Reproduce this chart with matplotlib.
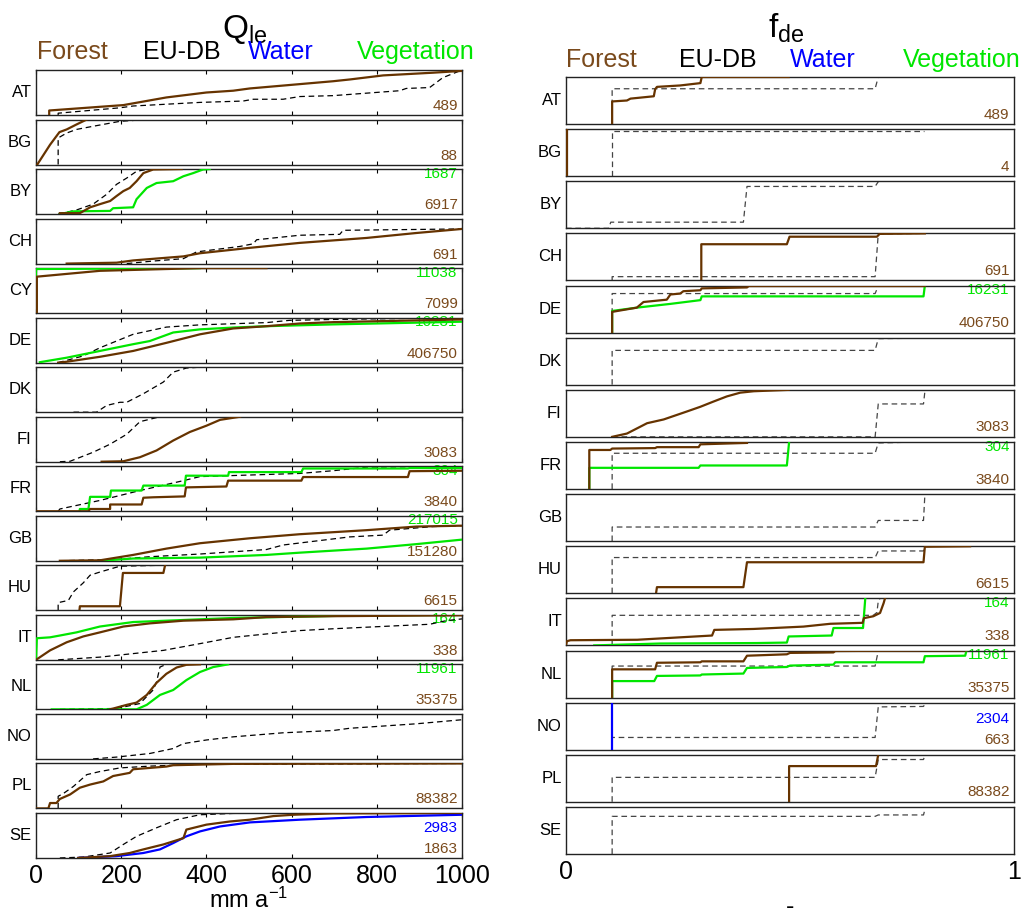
## CDF panels of Q_le and f_de per country
import matplotlib.pyplot as plt

plt.rcParams['font.family'] = ['Liberation Sans', 'DejaVu Sans']
plt.rcParams['mathtext.default'] = 'regular'

# ---- data: Q_le column (x in mm a-1, y cumulative fraction) ----
ql_countries = ["AT", "BG", "BY", "CH", "CY", "DE", "DK", "FI",
                "FR", "GB", "HU", "IT", "NL", "NO", "PL", "SE"]

ql_forest = {
    "AT": ([31, 31, 205, 306, 400, 463, 502, 697, 737, 815, 932, 1000],
           [0, 0.10, 0.22, 0.39, 0.50, 0.54, 0.59, 0.75, 0.79, 0.88, 0.94, 0.98]),
    "BG": ([3, 33, 55, 72, 95, 119], [0, 0.44, 0.72, 0.78, 0.89, 1.0]),
    "BY": ([56, 103, 127, 150, 174, 189, 205, 220, 236, 252, 275, 342],
           [0.02, 0.02, 0.15, 0.22, 0.29, 0.40, 0.51, 0.58, 0.73, 0.91, 0.99, 1.0]),
    "CH": ([72, 189, 228, 346, 385, 502, 619, 776, 893, 1000],
           [0, 0.02, 0.07, 0.16, 0.23, 0.35, 0.46, 0.57, 0.68, 0.77]),
    "CY": ([2, 2, 150, 385, 541], [0, 0.81, 0.94, 1.0, 1.0]),
    "DE": ([52, 72, 150, 228, 306, 385, 463, 541, 619, 697, 1000],
           [0, 0.02, 0.13, 0.26, 0.44, 0.63, 0.76, 0.81, 0.87, 0.90, 0.96]),
    "FI": ([154, 205, 244, 283, 322, 361, 400, 432, 479],
           [0, 0.01, 0.10, 0.25, 0.47, 0.66, 0.80, 0.93, 1.0]),
    "FR": ([0, 123, 127, 174, 174, 248, 252, 275, 349, 352, 447, 451, 623, 627, 873, 877, 1000],
           [0, 0, 0.05, 0.05, 0.15, 0.15, 0.30, 0.31, 0.33, 0.53, 0.55, 0.68, 0.68, 0.76, 0.76, 0.89, 0.90]),
    "GB": ([56, 150, 228, 306, 385, 502, 619, 776, 893, 1000],
           [0, 0.01, 0.13, 0.27, 0.39, 0.50, 0.59, 0.68, 0.76, 0.78]),
    "HU": ([102, 103, 197, 204, 299, 303], [0, 0.09, 0.09, 0.83, 0.83, 1.0]),
    "IT": ([0, 33, 72, 111, 150, 205, 267, 346, 463, 541, 697, 1000],
           [0, 0.21, 0.39, 0.52, 0.61, 0.74, 0.81, 0.87, 0.90, 0.95, 0.97, 0.99]),
    "NL": ([174, 213, 236, 260, 283, 306, 330, 353, 385],
           [0, 0.10, 0.15, 0.32, 0.59, 0.79, 0.93, 0.99, 1.0]),
    "PL": ([0, 29, 33, 48, 56, 80, 103, 127, 158, 181, 220, 228, 267, 306, 322, 463, 1000],
           [0, 0, 0.12, 0.12, 0.21, 0.31, 0.46, 0.53, 0.60, 0.72, 0.79, 0.87, 0.90, 0.93, 0.96, 0.99, 1.0]),
    "SE": ([99, 174, 220, 252, 299, 346, 353, 400, 455, 502, 557, 604, 697, 1000],
           [0, 0.04, 0.11, 0.19, 0.30, 0.44, 0.63, 0.74, 0.81, 0.85, 0.93, 0.96, 0.99, 1.0]),
}

ql_veg = {
    "BY": ([56, 88, 174, 181, 228, 236, 260, 283, 322, 346, 369, 392, 408],
           [0, 0.06, 0.07, 0.13, 0.15, 0.33, 0.58, 0.69, 0.73, 0.84, 0.91, 0.99, 1.0]),
    "CY": ([0, 0, 385], [0, 0.98, 1.0]),
    "DE": ([9, 72, 150, 228, 267, 322, 385, 463, 541, 697, 1000],
           [0.01, 0.11, 0.26, 0.41, 0.48, 0.67, 0.74, 0.78, 0.81, 0.85, 0.91]),
    "FR": ([102, 103, 123, 127, 174, 176, 248, 252, 349, 352, 451, 453, 623, 627, 873, 877, 1000],
           [0, 0.05, 0.05, 0.32, 0.32, 0.46, 0.46, 0.57, 0.57, 0.79, 0.79, 0.87, 0.87, 0.95, 0.95, 0.96, 0.96]),
    "GB": ([150, 228, 385, 541, 619, 776, 893, 1000],
           [0, 0.05, 0.07, 0.13, 0.18, 0.27, 0.37, 0.47]),
    "IT": ([0, 2, 33, 56, 95, 150, 228, 306, 463, 619, 776, 1000],
           [0, 0.48, 0.50, 0.54, 0.61, 0.74, 0.84, 0.87, 0.93, 0.96, 0.99, 1.0]),
    "NL": ([37, 236, 260, 291, 322, 353, 385, 416, 451],
           [0, 0, 0.10, 0.32, 0.43, 0.65, 0.83, 0.94, 1.0]),
}

ql_water = {
    "SE": ([99, 189, 252, 291, 322, 353, 385, 432, 502, 619, 776, 1000],
           [0, 0.04, 0.11, 0.19, 0.33, 0.48, 0.59, 0.70, 0.79, 0.85, 0.91, 0.96]),
}

ql_eudb = {
    "AT": ([52, 52, 197, 228, 385, 486, 510, 580, 619, 697, 854, 869, 924, 955, 1000],
           [0, 0.04, 0.16, 0.20, 0.28, 0.31, 0.35, 0.35, 0.41, 0.43, 0.54, 0.59, 0.61, 0.83, 1.0]),
    "BG": ([52, 52, 72, 95, 134, 197, 260], [0, 0.59, 0.70, 0.78, 0.85, 0.96, 1.0]),
    "BY": ([52, 95, 134, 166, 189, 213, 236, 260], [0, 0.09, 0.22, 0.44, 0.66, 0.80, 0.95, 0.99]),
    "CH": ([213, 267, 346, 377, 478, 510, 518, 619, 713, 721, 1000],
           [0, 0.05, 0.11, 0.26, 0.38, 0.44, 0.53, 0.63, 0.65, 0.74, 0.77]),
    "DE": ([52, 111, 150, 228, 306, 385, 541, 595, 697, 1000],
           [0, 0.15, 0.33, 0.63, 0.79, 0.84, 0.89, 0.94, 0.96, 1.0]),
    "DK": ([88, 142, 166, 197, 213, 252, 299, 322, 353, 385],
           [0, 0, 0.15, 0.22, 0.22, 0.41, 0.67, 0.89, 0.98, 1.0]),
    "FI": ([56, 80, 134, 174, 213, 244, 283, 322, 392], [0, 0.01, 0.21, 0.39, 0.61, 0.89, 0.98, 1.0, 1.0]),
    "FR": ([52, 56, 150, 244, 346, 385, 619, 697, 776, 1000],
           [0, 0.05, 0.24, 0.46, 0.68, 0.77, 0.84, 0.90, 0.98, 1.0]),
    "GB": ([56, 189, 267, 385, 541, 580, 658, 736, 815, 830, 932, 1000],
           [0, 0.03, 0.09, 0.15, 0.25, 0.35, 0.44, 0.53, 0.57, 0.68, 0.76, 0.78]),
    "HU": ([52, 52, 76, 88, 111, 127, 150, 197, 291, 377], [0, 0.17, 0.22, 0.41, 0.61, 0.78, 0.85, 0.98, 1, 1]),
    "IT": ([52, 150, 299, 385, 463, 619, 697, 854, 924, 963, 1000],
           [0, 0.06, 0.21, 0.36, 0.50, 0.65, 0.69, 0.76, 0.79, 0.87, 0.91]),
    "NL": ([56, 189, 244, 275, 283, 291, 306, 353], [0, 0.02, 0.13, 0.43, 0.61, 0.94, 1.0, 1.0]),
    "NO": ([134, 189, 267, 322, 346, 400, 463, 580, 697, 736, 815, 893, 1000],
           [0, 0.04, 0.12, 0.23, 0.34, 0.42, 0.49, 0.58, 0.63, 0.68, 0.73, 0.78, 0.87]),
    "PL": ([52, 52, 64, 88, 119, 150, 197, 267, 385, 1000], [0, 0.27, 0.33, 0.49, 0.75, 0.82, 0.90, 0.94, 0.98, 1.0]),
    "SE": ([56, 111, 174, 205, 236, 283, 330, 385, 463, 1000], [0, 0.02, 0.11, 0.30, 0.48, 0.67, 0.85, 0.96, 0.99, 1.0]),
}

ql_n_forest = {"AT": "489", "BG": "88", "BY": "6917", "CH": "691", "CY": "7099", "DE": "406750",
               "FI": "3083", "FR": "3840", "GB": "151280", "HU": "6615", "IT": "338",
               "NL": "35375", "PL": "88382", "SE": "1863"}
ql_n_veg = {"BY": "1687", "CY": "11038", "DE": "16231", "FR": "304", "GB": "217015",
            "IT": "164", "NL": "11961"}
ql_n_water = {"SE": "2983"}

# ---- data: f_de column (x fraction 0-1) ----
fd_countries = ["AT", "BG", "BY", "CH", "DE", "DK", "FI", "FR",
                "GB", "HU", "IT", "NL", "NO", "PL", "SE"]

fd_forest = {
    "AT": ([0.103, 0.103, 0.136, 0.144, 0.196, 0.199, 0.203, 0.255, 0.300, 0.303, 0.497],
           [0, 0.48, 0.50, 0.54, 0.59, 0.74, 0.79, 0.82, 0.87, 1.0, 1.0]),
    "BG": ([0.002, 0.002], [0, 1.0]),
    "CH": ([0.302, 0.302, 0.493, 0.499, 0.694, 0.700, 0.801], [0, 0.77, 0.77, 0.93, 0.93, 0.99, 1.0]),
    "DE": ([0.103, 0.103, 0.121, 0.158, 0.173, 0.225, 0.233, 0.255, 0.262, 0.300, 0.303, 0.404, 0.408, 0.801],
           [0, 0.44, 0.47, 0.53, 0.65, 0.70, 0.81, 0.83, 0.88, 0.90, 0.94, 0.96, 0.99, 0.99]),
    "FI": ([0.103, 0.136, 0.181, 0.218, 0.270, 0.300, 0.329, 0.359, 0.389, 0.419, 0.497],
           [0, 0.07, 0.29, 0.37, 0.54, 0.64, 0.75, 0.86, 0.94, 0.97, 1.0]),
    "FR": ([0.052, 0.052, 0.099, 0.103, 0.199, 0.203, 0.296, 0.300, 0.404],
           [0, 0.83, 0.83, 0.86, 0.87, 0.89, 0.89, 0.95, 0.98]),
    "HU": ([0.201, 0.203, 0.396, 0.404, 0.798, 0.801, 0.902], [0, 0.13, 0.13, 0.66, 0.66, 0.99, 1.0]),
    "IT": ([0, 0.002, 0.01, 0.159, 0.270, 0.326, 0.331, 0.419, 0.530, 0.590, 0.662, 0.665, 0.686, 0.701, 0.709, 0.712],
           [0, 0.09, 0.11, 0.12, 0.18, 0.21, 0.33, 0.35, 0.40, 0.46, 0.48, 0.58, 0.62, 0.69, 0.90, 1.0]),
    "NL": ([0.103, 0.103, 0.199, 0.203, 0.300, 0.303, 0.396, 0.404, 0.493, 0.500, 0.597, 0.601, 0.801, 0.894],
           [0, 0.60, 0.60, 0.74, 0.75, 0.77, 0.77, 0.89, 0.92, 0.95, 0.96, 0.99, 1.0, 1.0]),
    "PL": ([0.498, 0.498, 0.692, 0.697], [0, 0.76, 0.76, 1.0]),
}

fd_veg = {
    "DE": ([0.103, 0.103, 0.158, 0.233, 0.300, 0.303, 0.798, 0.801],
           [0, 0.46, 0.53, 0.61, 0.69, 0.77, 0.77, 1.0]),
    "FR": ([0.052, 0.052, 0.296, 0.300, 0.493, 0.498], [0, 0.45, 0.45, 0.50, 0.50, 1.0]),
    "IT": ([0.063, 0.210, 0.426, 0.493, 0.497, 0.593, 0.597, 0.663, 0.668],
           [0, 0.04, 0.05, 0.06, 0.19, 0.21, 0.37, 0.37, 1.0]),
    "NL": ([0.103, 0.103, 0.197, 0.203, 0.300, 0.303, 0.396, 0.404, 0.493, 0.500, 0.597, 0.601, 0.798, 0.801, 0.891, 0.894],
           [0, 0.35, 0.35, 0.46, 0.47, 0.49, 0.51, 0.63, 0.65, 0.68, 0.70, 0.75, 0.75, 0.88, 0.89, 1.0]),
}

fd_water = {
    "NO": ([0.103, 0.103], [0, 1.0]),
}

fd_eudb = {
    "AT": ([0.103, 0.103, 0.690, 0.697, 0.790], [0, 0.75, 0.75, 1.0, 1.0]),
    "BG": ([0.103, 0.103, 0.798], [0, 0.96, 0.96]),
    "BY": ([0, 0.095, 0.100, 0.396, 0.404, 0.690, 0.697], [0, 0, 0.13, 0.13, 0.89, 0.89, 0.99]),
    "CH": ([0.103, 0.103, 0.690, 0.697, 0.790], [0, 0.08, 0.08, 0.99, 1.0]),
    "DE": ([0.103, 0.103, 0.690, 0.697, 0.798], [0, 0.83, 0.83, 0.99, 0.99]),
    "DK": ([0.103, 0.103, 0.690, 0.697, 0.798], [0, 0.73, 0.73, 0.98, 0.99]),
    "FI": ([0.103, 0.690, 0.697, 0.798, 0.801], [0, 0, 0.70, 0.70, 0.96]),
    "FR": ([0.103, 0.103, 0.690, 0.697, 0.790], [0, 0.76, 0.76, 0.98, 1.0]),
    "GB": ([0.103, 0.103, 0.690, 0.697, 0.798, 0.801], [0, 0.30, 0.30, 0.44, 0.44, 0.98]),
    "HU": ([0.103, 0.103, 0.690, 0.697, 0.798, 0.801], [0, 0.76, 0.76, 0.90, 0.90, 0.99]),
    "IT": ([0.103, 0.103, 0.686, 0.694, 0.697, 0.701], [0, 0.64, 0.64, 0.70, 0.94, 1.0]),
    "NL": ([0.103, 0.103, 0.690, 0.697, 0.798], [0, 0.67, 0.67, 0.99, 0.99]),
    "NO": ([0.103, 0.103, 0.690, 0.697, 0.798, 0.801], [0, 0.26, 0.26, 0.91, 0.92, 0.97]),
    "PL": ([0.103, 0.103, 0.690, 0.697, 0.798, 0.801], [0, 0.52, 0.52, 0.90, 0.90, 0.99]),
    "SE": ([0.103, 0.103, 0.690, 0.697, 0.798, 0.801], [0, 0.80, 0.80, 0.83, 0.83, 0.94]),
}

fd_n_forest = {"AT": "489", "BG": "4", "CH": "691", "DE": "406750", "FI": "3083", "FR": "3840",
               "HU": "6615", "IT": "338", "NL": "35375", "NO": "663", "PL": "88382"}
fd_n_veg = {"DE": "16231", "FR": "304", "IT": "164", "NL": "11961"}
fd_n_water = {"NO": "2304"}

ql_ticks = [0, 200, 400, 600, 800, 1000]
fd_ticks = [0, 1]

# ---- style ----
c_forest = '#663300'
c_forest_txt = '#7a4a1c'
c_veg = '#00e600'
c_water = '#0000ff'

W, H = 1032, 917
fig = plt.figure(figsize=(W / 100, H / 100), dpi=100)


def draw_column(countries, forest, veg, water, eudb, n_forest, n_veg, n_water,
                left, right, top, panel_h, pitch, xlim, ticks, dash_color, show_minor_ticks):
    axes = []
    for i, c in enumerate(countries):
        t = top + i * pitch
        ax = fig.add_axes([left / W, 1 - (t + panel_h) / H, (right - left) / W, panel_h / H])
        if c in eudb:
            ax.plot(*eudb[c], color=dash_color, lw=0.9, dashes=(4.5, 3), zorder=2)
        if c in veg:
            ax.plot(*veg[c], color=c_veg, lw=1.6, zorder=3)
        if c in water:
            ax.plot(*water[c], color=c_water, lw=1.6, zorder=4)
        if c in forest:
            ax.plot(*forest[c], color=c_forest, lw=1.6, zorder=4)
        if c in n_forest:
            ax.text(0.99, 0.2, n_forest[c], transform=ax.transAxes, ha='right', va='center',
                    fontsize=11, color=c_forest_txt, zorder=1)
        if c in n_veg:
            ax.text(0.99, 0.9, n_veg[c], transform=ax.transAxes, ha='right', va='center',
                    fontsize=11, color=c_veg, zorder=1)
        if c in n_water:
            ax.text(0.99, 0.66, n_water[c], transform=ax.transAxes, ha='right', va='center',
                    fontsize=11, color=c_water, zorder=1)
        ax.set_xlim(xlim)
        ax.set_ylim(0, 1)
        ax.set_yticks([])
        ax.set_xticks(ticks)
        ax.tick_params(axis='x', direction='in', top=True, length=3 if show_minor_ticks else 0,
                       labelsize=18, pad=4)
        if i < len(countries) - 1:
            ax.set_xticklabels([])
        for s in ax.spines.values():
            s.set_linewidth(1.0)
            s.set_color('#222222')
        ax.set_ylabel(c, rotation=0, fontsize=12, ha='right', va='center', labelpad=3)
        axes.append(ax)
    return axes


ql_axes = draw_column(ql_countries, ql_forest, ql_veg, ql_water, ql_eudb,
                      ql_n_forest, ql_n_veg, ql_n_water,
                      36, 462, 70, 45, 49.53, (0, 1000), ql_ticks, 'black', True)
fd_axes = draw_column(fd_countries, fd_forest, fd_veg, fd_water, fd_eudb,
                      fd_n_forest, fd_n_veg, fd_n_water,
                      566, 1014, 77, 47, 52.14, (0, 1), fd_ticks, '#444444', False)

ql_axes[-1].set_xlabel('mm a$^{-1}$', fontsize=17, labelpad=0)
fd_axes[-1].set_xlabel('-', fontsize=18, labelpad=8)

# titles
fig.text(245 / W, 1 - 30 / H, '$Q_{le}$', ha='center', va='center', fontsize=24)
fig.text(786 / W, 1 - 28 / H, '$f_{de}$', ha='center', va='center', fontsize=24)

# colour keys
for x, y, txt, col in [(37, 52, 'Forest', c_forest_txt), (143, 52, 'EU-DB', 'black'),
                       (248, 52, 'Water', c_water), (357, 52, 'Vegetation', c_veg),
                       (566, 60, 'Forest', c_forest_txt), (679, 60, 'EU-DB', 'black'),
                       (790, 60, 'Water', c_water), (903, 60, 'Vegetation', c_veg)]:
    fig.text(x / W, 1 - y / H, txt, ha='left', va='center', fontsize=18, color=col)

fig.savefig('out.png', dpi=100)
